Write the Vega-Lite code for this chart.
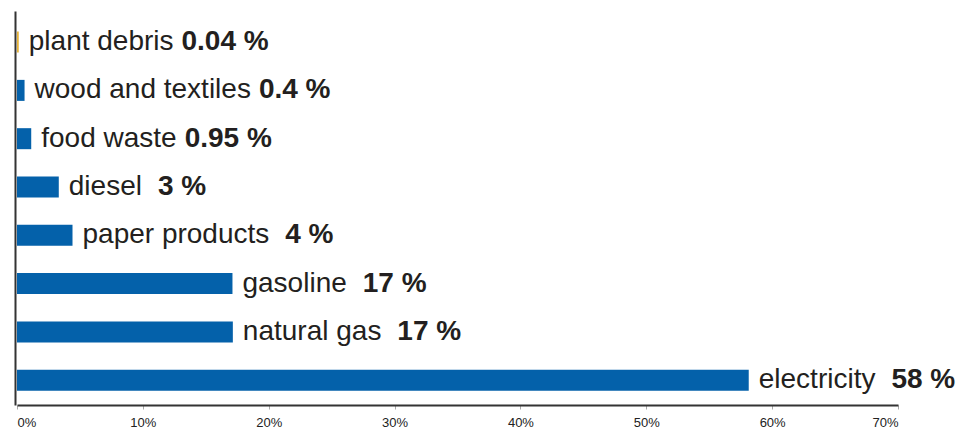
{
  "$schema": "https://vega.github.io/schema/vega-lite/v6.json",
  "width": 881,
  "height": 394,
  "autosize": {"type": "none"},
  "padding": {"left": 17, "top": 11, "right": 64, "bottom": 23},
  "config": {"view": {"stroke": null}, "font": "Liberation Sans"},
  "data": {
    "values": [
      {"name": "plant debris", "value": 0.14, "pct": "0.04 %"},
      {"name": "wood and textiles", "value": 0.6, "pct": "0.4 %"},
      {"name": "food waste", "value": 1.13, "pct": "0.95 %"},
      {"name": "diesel", "value": 3.32, "pct": "3 %"},
      {"name": "paper products", "value": 4.41, "pct": "4 %"},
      {"name": "gasoline", "value": 17.12, "pct": "17 %"},
      {"name": "natural gas", "value": 17.15, "pct": "17 %"},
      {"name": "electricity", "value": 58.14, "pct": "58 %"}
    ]
  },
  "encoding": {
    "y": {
      "field": "name",
      "type": "nominal",
      "sort": null,
      "scale": {"paddingInner": 0.565, "paddingOuter": 0.361, "align": 0.59},
      "axis": {"title": null, "labels": false, "ticks": false, "domainColor": "#333333", "domainWidth": 2, "offset": 2}
    },
    "x": {
      "field": "value",
      "type": "quantitative",
      "scale": {"domain": [0, 70], "nice": false},
      "axis": {
        "title": null,
        "values": [0, 10, 20, 30, 40, 50, 60, 70],
        "labelExpr": "datum.value + '%'",
        "grid": false,
        "domainColor": "#333333",
        "domainWidth": 2,
        "tickColor": "#aaaaaa",
        "tickSize": 4,
        "labelFontSize": 13,
        "labelColor": "#222222",
        "labelPadding": 7
      }
    }
  },
  "layer": [
    {
      "mark": {"type": "bar"},
      "encoding": {
        "color": {"condition": {"test": "datum.name === 'plant debris'", "value": "#E8B43A"}, "value": "#0461AA"}
      }
    },
    {
      "mark": {"type": "text", "align": "left", "baseline": "middle", "dx": 10, "fontSize": 28, "color": "#231F20"},
      "encoding": {"text": {"field": "name"}}
    },
    {
      "transform": [
        {
          "calculate": "28 * (0.556 * length(datum.name) - 0.334 * (length(datum.name) - length(replace(datum.name, regexp('[ijl]', 'g'), ''))) - 0.278 * (length(datum.name) - length(replace(datum.name, regexp('[ft ]', 'g'), ''))) - 0.223 * (length(datum.name) - length(replace(datum.name, regexp('r', 'g'), ''))) - 0.056 * (length(datum.name) - length(replace(datum.name, regexp('[cksvxyz]', 'g'), ''))) + 0.166 * (length(datum.name) - length(replace(datum.name, regexp('w', 'g'), ''))) + 0.277 * (length(datum.name) - length(replace(datum.name, regexp('m', 'g'), ''))))",
          "as": "nameW"
        }
      ],
      "mark": {"type": "text", "align": "left", "baseline": "middle", "fontSize": 28, "fontWeight": "bold", "color": "#231F20", "dx": {"expr": "datum.nameW + 18 + (datum.value > 2 ? 8 : 0)"}},
      "encoding": {"text": {"field": "pct"}}
    }
  ]
}
